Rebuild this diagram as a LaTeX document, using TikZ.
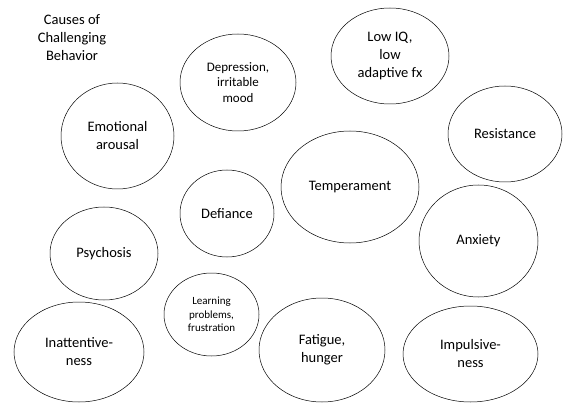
\documentclass[tikz,border=0pt]{standalone}
\usepackage{fontspec}
\setmainfont{Carlito}
\usetikzlibrary{shapes.geometric}

\tikzset{
    cause/.style={ellipse, draw, line width=0.5pt, inner sep=0pt, align=center,
        font=\fontsize{14.5}{18}\selectfont},
    causemid/.style={cause, font=\fontsize{13}{15.5}\selectfont},
    causesmall/.style={cause, font=\fontsize{11}{13.3}\selectfont}
}

\begin{document}
\begin{tikzpicture}[x=1pt, y=-1pt]

        % Frame
        \useasboundingbox (0,0) rectangle (564,403);

        % Title
        \node[align=center, font=\fontsize{14.5}{18}\selectfont] (title) at (72,38) {Causes of\\Challenging\\Behavior};

        % Top row
        \node[cause, minimum width=113, minimum height=106] (arousal) at (117.5,136) {Emotional\\arousal};
        \node[causemid, minimum width=116, minimum height=97] (depression) at (238,82.5) {Depression,\\irritable\\mood};
        \node[cause, minimum width=118, minimum height=96] (lowiq) at (390,56) {Low IQ,\\low\\adaptive fx};
        \node[cause, minimum width=114, minimum height=96] (resistance) at (505,134) {Resistance};

        % Middle row
        \node[cause, minimum width=138, minimum height=112] (temperament) at (350,187) {Temperament};
        \node[cause, minimum width=94, minimum height=87] (defiance) at (227,213.5) {Defiance};
        \node[cause, minimum width=108, minimum height=93] (psychosis) at (104,253.5) {Psychosis};
        \node[cause, minimum width=119, minimum height=112] (anxiety) at (478.5,241) {Anxiety};

        % Bottom row
        \node[causesmall, minimum width=95, minimum height=83] (learning) at (211.5,314.5) {Learning\\problems,\\frustration};
        \node[cause, minimum width=130, minimum height=100] (inattentive) at (79,352) {Inattentive-\\ness};
        \node[cause, minimum width=126, minimum height=104] (fatigue) at (322,350) {Fatigue,\\hunger};
        \node[cause, minimum width=135, minimum height=96] (impulsive) at (470.5,354) {Impulsive-\\ness};

    \end{tikzpicture}
\end{document}
